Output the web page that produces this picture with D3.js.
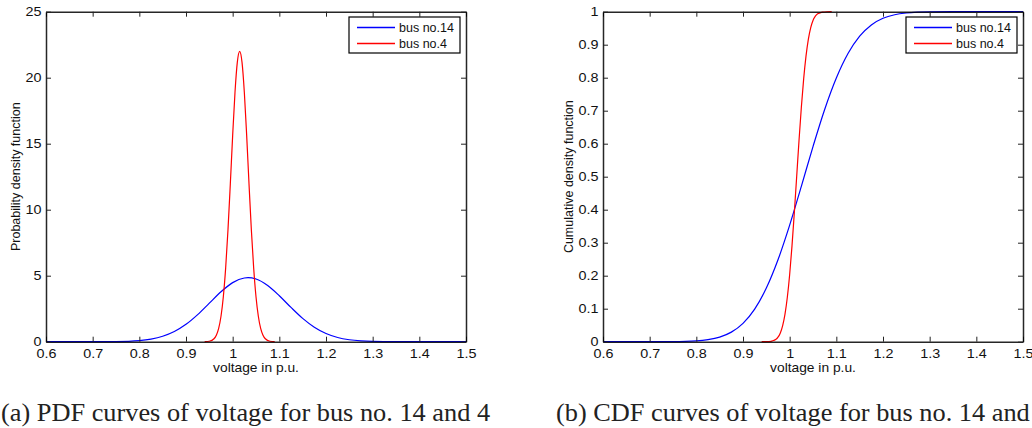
<!DOCTYPE html>
<html>
<head>
<meta charset="utf-8">
<script src="https://cdn.jsdelivr.net/npm/d3@7"></script>
<style>
  html, body { margin: 0; padding: 0; background: #fff; overflow: hidden; }
  svg { display: block; }
</style>
</head>
<body>
<svg id="chart" width="1032" height="428"></svg>
<script>
// ---- Data ----
const xTicks = [0.6, 0.7, 0.8, 0.9, 1.0, 1.1, 1.2, 1.3, 1.4, 1.5];
const xTickLabels = ["0.6", "0.7", "0.8", "0.9", "1", "1.1", "1.2", "1.3", "1.4", "1.5"];
const pdfYTicks = [0, 5, 10, 15, 20, 25];
const cdfYTicks = [0, 0.1, 0.2, 0.3, 0.4, 0.5, 0.6, 0.7, 0.8, 0.9, 1];
const cdfYTickLabels = ["0", "0.1", "0.2", "0.3", "0.4", "0.5", "0.6", "0.7", "0.8", "0.9", "1"];
const seriesNames = ["bus no.14", "bus no.4"];
const seriesColors = ["#0000ff", "#ff0000"];

// bus no.14 – voltage samples and PDF / CDF values
const bus14X = [0.6, 0.65, 0.7, 0.75, 0.8, 0.825, 0.85, 0.875, 0.9, 0.925, 0.95, 0.975, 1.0, 1.025, 1.033, 1.05, 1.075, 1.1, 1.125, 1.15, 1.175, 1.2, 1.225, 1.25, 1.275, 1.3, 1.35, 1.4, 1.45, 1.5];
const bus14Pdf = [0, 0, 0.001, 0.013, 0.088, 0.199, 0.409, 0.768, 1.314, 2.051, 2.918, 3.783, 4.475, 4.827, 4.85, 4.748, 4.258, 3.482, 2.596, 1.765, 1.095, 0.619, 0.319, 0.150, 0.064, 0.025, 0.003, 0, 0, 0];
const bus14CdfX = [0.6, 0.65, 0.7, 0.75, 0.8, 0.825, 0.85, 0.875, 0.9, 0.925, 0.95, 0.975, 1.0, 1.025, 1.05, 1.075, 1.1, 1.125, 1.15, 1.175, 1.2, 1.225, 1.25, 1.275, 1.3, 1.35, 1.4, 1.45, 1.5];
const bus14Cdf = [0, 0, 0, 0.0003, 0.0025, 0.0062, 0.0139, 0.029, 0.0557, 0.0989, 0.1625, 0.2482, 0.3531, 0.4709, 0.5913, 0.7037, 0.799, 0.8733, 0.9259, 0.9599, 0.98, 0.9908, 0.9961, 0.9985, 0.9995, 0.99995, 1, 1, 1];

// bus no.4 – voltage samples and PDF / CDF values
const bus4X = [0.94, 0.95, 0.96, 0.965, 0.97, 0.975, 0.98, 0.985, 0.99, 0.995, 1.0, 1.005, 1.01, 1.015, 1.02, 1.025, 1.03, 1.035, 1.04, 1.045, 1.05, 1.055, 1.06, 1.065, 1.07, 1.08, 1.09];
const bus4Pdf = [0.004, 0.036, 0.221, 0.49, 1.012, 1.93, 3.41, 5.59, 8.50, 11.97, 15.63, 18.90, 21.18, 22.0, 21.18, 18.90, 15.63, 11.97, 8.50, 5.59, 3.41, 1.93, 1.012, 0.49, 0.221, 0.036, 0.004];
const bus4Cdf = [0.00002, 0.0002, 0.0012, 0.0035, 0.0064, 0.0136, 0.0266, 0.0488, 0.0836, 0.1346, 0.2036, 0.2904, 0.3912, 0.5, 0.6088, 0.7096, 0.7964, 0.8654, 0.9164, 0.9512, 0.9734, 0.9864, 0.9936, 0.9965, 0.9988, 0.9998, 1];

const xLabel = "voltage in p.u.";
const captions = ["(a) PDF curves of voltage for bus no. 14 and 4", "(b) CDF curves of voltage for bus no. 14 and 4"];

// ---- Drawing ----
const svg = d3.select("#chart");
const sansFont = "'Liberation Sans', Arial, Helvetica, sans-serif";
const serifFont = "'Liberation Serif', 'Times New Roman', serif";
const stretch = 1.15; // reference text is horizontally widened

function drawPanel(opts) {
  const { left, right, top, bottom, yDomain, yTicks, yTickFmt, yLabel, yLabelX, series, legendX, caption, captionX } = opts;
  const x = d3.scaleLinear().domain([0.6, 1.5]).range([left, right]);
  const y = d3.scaleLinear().domain(yDomain).range([bottom, top]);
  const g = svg.append("g");

  // curves
  series.forEach(s => {
    const line = d3.line().x((d, i) => x(s.x[i])).y(d => y(d)).curve(d3.curveMonotoneX);
    g.append("path").datum(s.y).attr("d", line)
      .attr("fill", "none").attr("stroke", s.color).attr("stroke-width", 1.2);
  });

  const xAxis = d3.axisBottom(x).tickValues(xTicks).tickSizeInner(-5).tickSizeOuter(0).tickPadding(7)
    .tickFormat((d, i) => xTickLabels[i]);
  const gx = g.append("g").attr("transform", `translate(0,${bottom})`).call(xAxis);
  const gxt = g.append("g").attr("transform", `translate(0,${top})`)
    .call(d3.axisTop(x).tickValues(xTicks).tickSizeInner(-5).tickSizeOuter(0).tickFormat(""));
  const yAxis = d3.axisLeft(y).tickValues(yTicks).tickSizeInner(-5).tickSizeOuter(0).tickPadding(4)
    .tickFormat(yTickFmt);
  const gy = g.append("g").attr("transform", `translate(${left},0)`).call(yAxis);
  const gyr = g.append("g").attr("transform", `translate(${right},0)`)
    .call(d3.axisRight(y).tickValues(yTicks).tickSizeInner(-5).tickSizeOuter(0).tickFormat(""));

  [gx, gxt, gy, gyr].forEach(a => {
    a.select(".domain").attr("stroke", "#000").attr("stroke-width", 1.5).attr("stroke-opacity", 0.85);
    a.selectAll(".tick line").attr("stroke", "#222").attr("stroke-width", 1);
    a.selectAll(".tick text").attr("fill", "#111").style("font-family", sansFont).style("font-size", "12.5px")
      .attr("transform", `scale(${stretch},1)`);
  });

  // x label
  g.append("text").attr("transform", `translate(${(left + right) / 2},372) scale(${stretch},1)`)
    .attr("text-anchor", "middle")
    .style("font-family", sansFont).style("font-size", "12px").attr("fill", "#111").text(xLabel);
  // y label
  g.append("text").attr("transform", `translate(${yLabelX},${(top + bottom) / 2}) rotate(-90)`)
    .attr("text-anchor", "middle").style("font-family", sansFont).style("font-size", "12.5px")
    .attr("fill", "#111").text(yLabel);

  // legend
  const lg = g.append("g").attr("class", "legend");
  lg.append("rect").attr("x", legendX).attr("y", 17).attr("width", 111).attr("height", 36)
    .attr("fill", "#ffffff").attr("stroke", "#000000").attr("stroke-width", 1.2);
  seriesNames.forEach((name, i) => {
    const ly = 27.5 + i * 16;
    lg.append("path").attr("d", `M${legendX + 8},${ly}H${legendX + 46}`)
      .attr("fill", "none").attr("stroke", seriesColors[i]).attr("stroke-width", 1.3);
    lg.append("text").attr("x", legendX + 50).attr("y", ly + 4.5)
      .style("font-family", sansFont).style("font-size", "12.5px").attr("fill", "#111").text(name);
  });

  // caption
  g.append("text").attr("transform", `translate(${captionX},421) scale(1.075,1)`)
    .style("font-family", serifFont).style("font-size", "24.5px").attr("fill", "#222").text(caption);
}

drawPanel({
  left: 46, right: 466, top: 11.7, bottom: 341.7,
  yDomain: [0, 25], yTicks: pdfYTicks, yTickFmt: d3.format("d"),
  yLabel: "Probability density function", yLabelX: 20,
  series: [
    { x: bus14X, y: bus14Pdf, color: seriesColors[0] },
    { x: bus4X, y: bus4Pdf, color: seriesColors[1] }
  ],
  legendX: 349, caption: captions[0], captionX: 1
});

drawPanel({
  left: 603, right: 1023, top: 11.7, bottom: 341.7,
  yDomain: [0, 1], yTicks: cdfYTicks, yTickFmt: (d, i) => cdfYTickLabels[i],
  yLabel: "Cumulative density function", yLabelX: 573,
  series: [
    { x: bus14CdfX, y: bus14Cdf, color: seriesColors[0] },
    { x: bus4X, y: bus4Cdf, color: seriesColors[1] }
  ],
  legendX: 906, caption: captions[1], captionX: 556
});
</script>
</body>
</html>
